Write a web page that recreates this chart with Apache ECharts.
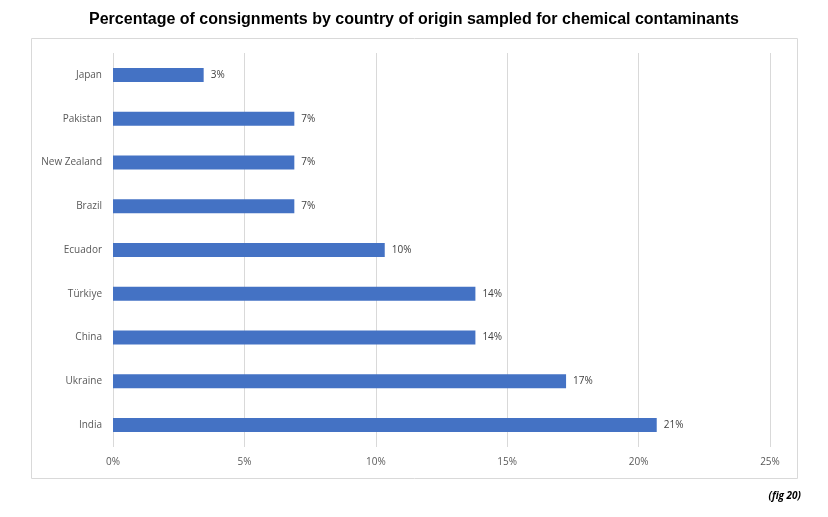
<!DOCTYPE html>
<html>
<head>
<meta charset="utf-8">
<script src="https://cdn.jsdelivr.net/npm/echarts@6/dist/echarts.min.js"></script>
<style>html,body{margin:0;padding:0;background:#fff;}#c{width:828px;height:517px;}</style>
</head>
<body>
<div id="c"></div>
<script>
var categories = ['India', 'Ukraine', 'China', 'Türkiye', 'Ecuador', 'Brazil', 'New Zealand', 'Pakistan', 'Japan'];
var values = [20.69, 17.24, 13.79, 13.79, 10.34, 6.90, 6.90, 6.90, 3.45];
var xTicks = [0, 5, 10, 15, 20, 25];

var chart = echarts.init(document.getElementById('c'));
chart.setOption({
  animation: false,
  title: {
    text: 'Percentage of consignments by country of origin sampled for chemical contaminants',
    left: 'center', top: 7,
    textStyle: { fontFamily: 'Liberation Sans', fontWeight: 'bold', fontSize: 16, color: '#000' }
  },
  graphic: [
    { type: 'rect', shape: { x: 31.5, y: 38.5, width: 766, height: 440 }, style: { fill: 'none', stroke: '#d9d9d9', lineWidth: 1 }, z: -1 },
    { type: 'text', right: 27, top: 491, style: { text: '(fig 20)', font: 'italic bold 10px "Open Sans"', fill: '#000' } }
  ],
  grid: { left: 113, right: 58, top: 53, bottom: 70, containLabel: false },
  xAxis: {
    type: 'value', min: xTicks[0], max: xTicks[xTicks.length - 1], interval: 5,
    axisLine: { show: false }, axisTick: { show: false },
    splitLine: { lineStyle: { color: '#d9d9d9', width: 1 } },
    axisLabel: { formatter: '{value}%', color: '#595959', fontFamily: 'Open Sans', fontSize: 10, margin: 10 }
  },
  yAxis: {
    type: 'category', data: categories,
    axisLine: { show: false }, axisTick: { show: false },
    axisLabel: { color: '#595959', fontFamily: 'Open Sans', fontSize: 10, margin: 11 }
  },
  series: [{
    type: 'bar', data: values, barWidth: 14,
    itemStyle: { color: '#4472c4' },
    label: {
      show: true, position: 'right', distance: 7,
      color: '#404040', fontFamily: 'Open Sans', fontSize: 10,
      formatter: function (p) { return Math.round(p.value) + '%'; }
    }
  }]
});
</script>
</body>
</html>
